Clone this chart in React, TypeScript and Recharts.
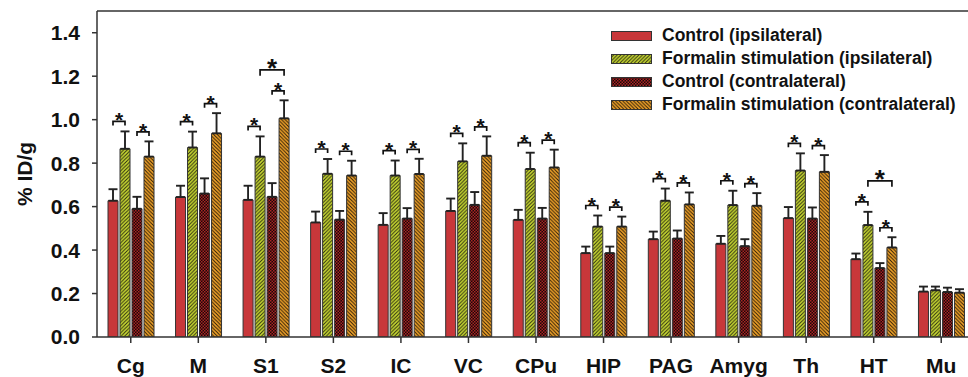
import React from "react";
import {
  BarChart,
  Bar,
  XAxis,
  YAxis,
  ErrorBar,
  ReferenceLine,
  Rectangle,
} from "recharts";

const CATEGORIES = ["Cg", "M", "S1", "S2", "IC", "VC", "CPu", "HIP", "PAG", "Amyg", "Th", "HT", "Mu"];

const CONTROL_IPSI = [0.627, 0.644, 0.631, 0.527, 0.516, 0.58, 0.539, 0.386, 0.45, 0.429, 0.547, 0.358, 0.209];
const CONTROL_IPSI_ERR = [0.053, 0.052, 0.065, 0.05, 0.054, 0.057, 0.046, 0.03, 0.035, 0.036, 0.051, 0.026, 0.023];
const FORMALIN_IPSI = [0.866, 0.872, 0.83, 0.751, 0.743, 0.808, 0.773, 0.508, 0.627, 0.607, 0.766, 0.515, 0.215];
const FORMALIN_IPSI_ERR = [0.08, 0.073, 0.093, 0.068, 0.069, 0.083, 0.075, 0.051, 0.056, 0.066, 0.079, 0.061, 0.017];
const CONTROL_CONTRA = [0.59, 0.66, 0.645, 0.54, 0.545, 0.608, 0.545, 0.386, 0.453, 0.418, 0.545, 0.317, 0.207];
const CONTROL_CONTRA_ERR = [0.055, 0.07, 0.063, 0.04, 0.048, 0.059, 0.049, 0.03, 0.037, 0.032, 0.051, 0.023, 0.02];
const FORMALIN_CONTRA = [0.83, 0.937, 1.006, 0.743, 0.75, 0.834, 0.78, 0.508, 0.61, 0.604, 0.76, 0.412, 0.204];
const FORMALIN_CONTRA_ERR = [0.07, 0.093, 0.083, 0.068, 0.07, 0.089, 0.082, 0.046, 0.055, 0.058, 0.077, 0.047, 0.016];

// significance markers: control vs formalin on each side, and ipsi vs contra formalin
const SIG_IPSI = [true, true, true, true, true, true, true, true, true, true, true, true, false];
const SIG_CONTRA = [true, true, true, true, true, true, true, true, true, true, true, true, false];
const SIG_CROSS = [false, false, true, false, false, false, false, false, false, false, false, true, false];

const Y_TICKS = [0, 0.2, 0.4, 0.6, 0.8, 1.0, 1.2, 1.4];

const SERIES = [
  { key: "ci", err: "ciErr", name: "Control (ipsilateral)", fill: "#c8373a" },
  { key: "fi", err: "fiErr", name: "Formalin stimulation (ipsilateral)", fill: "url(#patGreen)" },
  { key: "cc", err: "ccErr", name: "Control (contralateral)", fill: "url(#patDark)" },
  { key: "fc", err: "fcErr", name: "Formalin stimulation (contralateral)", fill: "url(#patOrange)" },
];

const data = CATEGORIES.map((name, i) => ({
  name,
  ci: CONTROL_IPSI[i],
  ciErr: [0, CONTROL_IPSI_ERR[i]],
  fi: FORMALIN_IPSI[i],
  fiErr: [0, FORMALIN_IPSI_ERR[i]],
  cc: CONTROL_CONTRA[i],
  ccErr: [0, CONTROL_CONTRA_ERR[i]],
  fc: FORMALIN_CONTRA[i],
  fcErr: [0, FORMALIN_CONTRA_ERR[i]],
}));

const FONT = "'Liberation Sans', Arial, sans-serif";
const BAR_GAP = 2;

function Bracket({ a, b, y, big }: { a: number; b: number; y: number; big?: boolean }) {
  const leg = big ? 6 : 4;
  return (
    <g>
      <path d={`M${a},${y + leg}V${y}H${b}V${y + leg}`} fill="none" stroke="#111" strokeWidth={1.7} />
      <text
        x={(a + b) / 2}
        y={big ? y + 7 : y + 6}
        textAnchor="middle"
        fontSize={big ? 26 : 21}
        fontWeight={700}
        fontFamily={FONT}
        fill="#111"
      >
        *
      </text>
    </g>
  );
}

// last series draws its own bar plus the significance brackets for the group
function OrangeShape(props: any) {
  const { x, y, width, height, fill, payload } = props;
  const i = CATEGORIES.indexOf(payload?.name);
  const rect = <Rectangle x={x} y={y} width={width} height={height} fill={fill} stroke="#333" strokeWidth={1} />;
  if (i < 0 || !height) return rect;
  const base = y + height;
  const k = height / FORMALIN_CONTRA[i];
  const yv = (v: number) => base - v * k;
  const cx = (j: number) => x + width / 2 - (3 - j) * (width + BAR_GAP);
  const ipsiY = Math.min(yv(CONTROL_IPSI[i] + CONTROL_IPSI_ERR[i]), yv(FORMALIN_IPSI[i] + FORMALIN_IPSI_ERR[i])) - 10;
  const contraY = Math.min(yv(CONTROL_CONTRA[i] + CONTROL_CONTRA_ERR[i]), yv(FORMALIN_CONTRA[i] + FORMALIN_CONTRA_ERR[i])) - 9.5;
  return (
    <g>
      {rect}
      {SIG_IPSI[i] && <Bracket a={cx(0)} b={cx(1)} y={ipsiY} />}
      {SIG_CONTRA[i] && <Bracket a={cx(2)} b={cx(3)} y={contraY} />}
      {SIG_CROSS[i] && <Bracket a={cx(1)} b={cx(3)} y={Math.min(ipsiY, contraY) - 21} big />}
    </g>
  );
}

function Swatch({ fill }: { fill: string }) {
  return (
    <svg width={41} height={10} style={{ display: "block" }}>
      <rect x={0.5} y={0.5} width={40} height={9} fill={fill} stroke="#333" strokeWidth={1} />
    </svg>
  );
}

export default function App() {
  return (
    <div
      style={{
        position: "absolute",
        left: 0,
        top: 0,
        width: 968,
        height: 377,
        overflow: "hidden",
        background: "#fff",
        fontFamily: FONT,
      }}
    >
      <BarChart
        width={975}
        height={377}
        data={data}
        margin={{ top: 11, right: 0, left: 0, bottom: 0 }}
        barSize={10}
        barGap={BAR_GAP}
      >
        <defs>
          <pattern id="patGreen" width={3.6} height={3.6} patternUnits="userSpaceOnUse">
            <rect width={3.6} height={3.6} fill="#cbdc32" />
            <path d="M-0.9,0.9 L0.9,-0.9 M0,3.6 L3.6,0 M2.7,4.5 L4.5,2.7" stroke="#2a2a10" strokeWidth={1} />
          </pattern>
          <pattern id="patOrange" width={3.6} height={3.6} patternUnits="userSpaceOnUse">
            <rect width={3.6} height={3.6} fill="#f4a52a" />
            <path d="M-0.9,2.7 L0.9,4.5 M0,0 L3.6,3.6 M2.7,-0.9 L4.5,0.9" stroke="#2a1a05" strokeWidth={1} />
          </pattern>
          <pattern id="patDark" width={3} height={3} patternUnits="userSpaceOnUse">
            <rect width={3} height={3} fill="#1c0707" />
            <rect x={0} y={0} width={1.5} height={1.5} fill="#a82424" />
            <rect x={1.5} y={1.5} width={1.5} height={1.5} fill="#a82424" />
          </pattern>
        </defs>
        <XAxis
          dataKey="name"
          height={40}
          interval={0}
          tickSize={6}
          tickMargin={15}
          axisLine={{ stroke: "#333", strokeWidth: 1.5 }}
          tickLine={{ stroke: "#333", strokeWidth: 1.5 }}
          tick={{ fontSize: 21, fontWeight: 700, fill: "#111", fontFamily: FONT }}
        />
        <YAxis
          width={97}
          domain={[0, 1.5]}
          ticks={Y_TICKS}
          allowDataOverflow
          tickSize={5}
          tickMargin={12}
          tickFormatter={(v: number) => v.toFixed(1)}
          axisLine={{ stroke: "#333", strokeWidth: 1.5 }}
          tickLine={{ stroke: "#333", strokeWidth: 1.5 }}
          tick={{ fontSize: 21, fontWeight: 700, fill: "#111", fontFamily: FONT }}
          label={{
            value: "% ID/g",
            angle: -90,
            position: "center",
            dx: -24,
            style: { fontSize: 21, fontWeight: 700, fill: "#111", fontFamily: FONT },
          }}
        />
        <ReferenceLine y={1.5} stroke="#333" strokeWidth={1.5} />
        {SERIES.map((s, idx) => (
          <Bar
            key={s.key}
            dataKey={s.key}
            name={s.name}
            fill={s.fill}
            stroke="#333"
            strokeWidth={1}
            isAnimationActive={false}
            shape={idx === 3 ? OrangeShape : undefined}
          >
            <ErrorBar dataKey={s.err} width={4.5} stroke="#222" strokeWidth={1.9} isAnimationActive={false} />
          </Bar>
        ))}
      </BarChart>
      <div style={{ position: "absolute", left: 611, top: 24, fontWeight: 700, fontSize: 17.5, color: "#111" }}>
        {SERIES.map((s) => (
          <div key={s.key} style={{ display: "flex", alignItems: "center", height: 23 }}>
            <Swatch fill={s.fill} />
            <span style={{ marginLeft: 10, whiteSpace: "nowrap" }}>{s.name}</span>
          </div>
        ))}
      </div>
    </div>
  );
}
